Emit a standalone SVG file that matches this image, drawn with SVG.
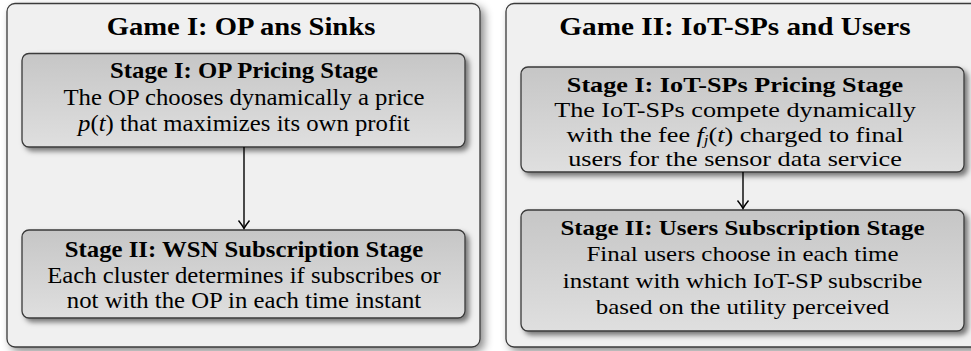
<svg xmlns="http://www.w3.org/2000/svg" width="971" height="351" viewBox="0 0 971 351">
<style>
.outer{fill:#f0f0f0;stroke:#3a3a3a;stroke-width:1.3}
.stage{fill:url(#gs);stroke:#3a3a3a;stroke-width:1.3}
.t{font-family:'Liberation Serif',serif;fill:#000;text-anchor:middle}
.title{font-weight:bold;font-size:26px}
.hdL{font-weight:bold;font-size:22.5px}
.bdL{font-size:22.5px}
.hdR{font-weight:bold;font-size:21.5px}
.bdR{font-size:21.5px}
.m{font-style:italic}
.conn{stroke:#000;stroke-width:1.4;fill:none;marker-end:url(#arr)}
</style>
<defs>
<linearGradient id="gs" x1="0" y1="0" x2="0" y2="1"><stop offset="0" stop-color="#c6c6c6"/><stop offset="1" stop-color="#dfdfdf"/></linearGradient>
<filter id="sh" x="-10%" y="-10%" width="130%" height="135%"><feDropShadow dx="3.5" dy="3.5" stdDeviation="2.5" flood-color="#000" flood-opacity="0.5"/></filter>
<filter id="sho" x="-10%" y="-10%" width="130%" height="130%"><feDropShadow dx="4" dy="4" stdDeviation="4" flood-color="#000" flood-opacity="0.45"/></filter>
<marker id="arr" markerUnits="userSpaceOnUse" viewBox="-10 -7 12 14" markerWidth="12" markerHeight="14" refX="0" refY="0" orient="auto">
<path d="M-8,-5.5 Q-3,-1.5 0,0 Q-3,1.5 -8,5.5" stroke="#000" stroke-width="1.4" fill="none"/>
</marker>
</defs>
<rect width="971" height="351" fill="#fff"/>

<g id="game1">
<rect class="outer" x="7" y="3.5" width="473" height="343.5" rx="8" filter="url(#sho)"/>
<g transform="translate(241 0) scale(1.1 1)"><text class="t title" font-family="Liberation Serif, serif" x="0" y="35">Game I: OP ans Sinks</text></g>
</g>

<g id="game2">
<rect class="outer" x="506" y="3.5" width="490" height="343.5" rx="8" filter="url(#sho)"/>
<g transform="translate(735 0) scale(1.17 1)"><text class="t title" font-family="Liberation Serif, serif" style="font-size:25px" x="0" y="35">Game II: IoT-SPs and Users</text></g>
</g>

<g id="g1stage1">
<rect class="stage" x="22" y="53.5" width="443" height="93.5" rx="7" filter="url(#sh)"/>
<g transform="translate(244 0) scale(1.1 1)" font-family="Liberation Serif, serif">
<text class="t hdL" x="0" y="78.5">Stage I: OP Pricing Stage</text>
<text class="t bdL" x="0" y="105">The OP chooses dynamically a price</text>
<text class="t bdL" x="0" y="131"><tspan class="m">p</tspan>(<tspan class="m">t</tspan>) that maximizes its own profit</text>
</g>
</g>

<g id="g1stage2">
<rect class="stage" x="22" y="230" width="443" height="88" rx="7" filter="url(#sh)"/>
<g transform="translate(244 0) scale(1.1 1)" font-family="Liberation Serif, serif">
<text class="t hdL" x="0" y="257">Stage II: WSN Subscription Stage</text>
<text class="t bdL" x="0" y="283">Each cluster determines if subscribes or</text>
<text class="t bdL" x="0" y="308.5">not with the OP in each time instant</text>
</g>
</g>

<g id="g2stage1">
<rect class="stage" x="521" y="67" width="443" height="105" rx="7" filter="url(#sh)"/>
<g transform="translate(735 0) scale(1.19 1)" font-family="Liberation Serif, serif">
<text class="t hdR" style="font-size:22px" x="0" y="92">Stage I: IoT-SPs Pricing Stage</text>
<text class="t bdR" style="font-size:22px" x="0" y="117">The IoT-SPs compete dynamically</text>
<text class="t bdR" style="font-size:22px" x="0" y="142">with the fee <tspan class="m">f</tspan><tspan class="m" style="font-size:14px" dy="3">j</tspan><tspan dy="-3">(</tspan><tspan class="m">t</tspan>) charged to final</text>
<text class="t bdR" style="font-size:22px" x="0" y="166">users for the sensor data service</text>
</g>
</g>

<g id="g2stage2">
<rect class="stage" x="521" y="210" width="443" height="121" rx="7" filter="url(#sh)"/>
<g transform="translate(742.5 0) scale(1.16 1)" font-family="Liberation Serif, serif">
<text class="t hdR" x="0" y="235.5">Stage II: Users Subscription Stage</text>
<text class="t bdR" x="0" y="261.5">Final users choose in each time</text>
<text class="t bdR" x="0" y="288">instant with which IoT-SP subscribe</text>
<text class="t bdR" x="0" y="314">based on the utility perceived</text>
</g>
</g>

<g id="connectors">
<line class="conn" x1="244" y1="147" x2="244" y2="228.5"/>
<line class="conn" x1="743" y1="172" x2="743" y2="208.5"/>
</g>
</svg>
